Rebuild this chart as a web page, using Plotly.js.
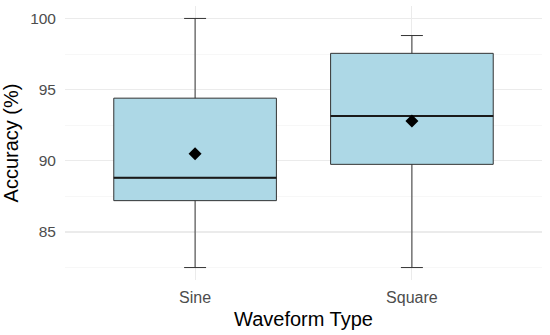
<!DOCTYPE html>
<html><head><meta charset="utf-8">
<script src="https://cdn.plot.ly/plotly-3.0.1.min.js"></script>
<style>html,body{margin:0;padding:0;background:#fff}#chart{width:550px;height:335px}</style>
</head><body><div id="chart"></div>
<script>
const categories = ["Sine", "Square"];
const lowerWhisker = [82.5, 82.5];
const q1 = [87.2, 89.75];
const median = [88.8, 93.15];
const q3 = [94.4, 97.55];
const upperWhisker = [100, 98.8];
const means = [90.5, 92.8];
const yTicks = [85, 90, 95, 100];

const boxTrace = {
  type: "box", x: categories, q1: q1, median: median, q3: q3,
  lowerfence: lowerWhisker, upperfence: upperWhisker,
  fillcolor: "#ADD8E6", line: {color: "#333333", width: 1},
  width: 0.75, whiskerwidth: 0.135, boxpoints: false, hoverinfo: "skip", showlegend: false
};
const medianTrace = {
  type: "box", x: categories, q1: median, median: median, q3: median,
  lowerfence: median, upperfence: median,
  fillcolor: "rgba(0,0,0,0)", line: {color: "#1a1a1a", width: 2},
  width: 0.75, whiskerwidth: 0, boxpoints: false, hoverinfo: "skip", showlegend: false
};
const meanTrace = {
  type: "scatter", mode: "markers", x: categories, y: means,
  marker: {symbol: "diamond", size: 10, color: "#000"}, showlegend: false, hoverinfo: "skip"
};

const layout = {
  width: 550, height: 335,
  margin: {l: 65, r: 8, t: 6, b: 55},
  paper_bgcolor: "#fff", plot_bgcolor: "#fff",
  boxmode: "overlay",
  font: {family: "Liberation Sans, Arial, sans-serif", color: "#4d4d4d"},
  xaxis: {
    type: "category", range: [-0.6, 1.6],
    showgrid: true, gridcolor: "#ebebeb", gridwidth: 1.1,
    zeroline: false, showline: false, ticks: "", ticklabelstandoff: 6,
    tickfont: {size: 16, color: "#4d4d4d"},
    title: {text: "Waveform Type", font: {size: 20, color: "#000"}, standoff: 6}
  },
  yaxis: {
    range: [81.625, 100.875],
    tickvals: yTicks, ticktext: yTicks.map(String),
    showgrid: true, gridcolor: "#ebebeb", gridwidth: 1.1,
    minor: {dtick: 2.5, tick0: 0, showgrid: true, gridcolor: "#f2f2f2", gridwidth: 0.6},
    zeroline: false, showline: false, ticks: "", ticklabelstandoff: 8,
    tickfont: {size: 15.5, color: "#4d4d4d"},
    title: {text: "Accuracy (%)", font: {size: 20, color: "#000"}, standoff: 6}
  }
};
Plotly.newPlot("chart", [boxTrace, medianTrace, meanTrace], layout, {displayModeBar: false, staticPlot: true});
</script></body></html>
